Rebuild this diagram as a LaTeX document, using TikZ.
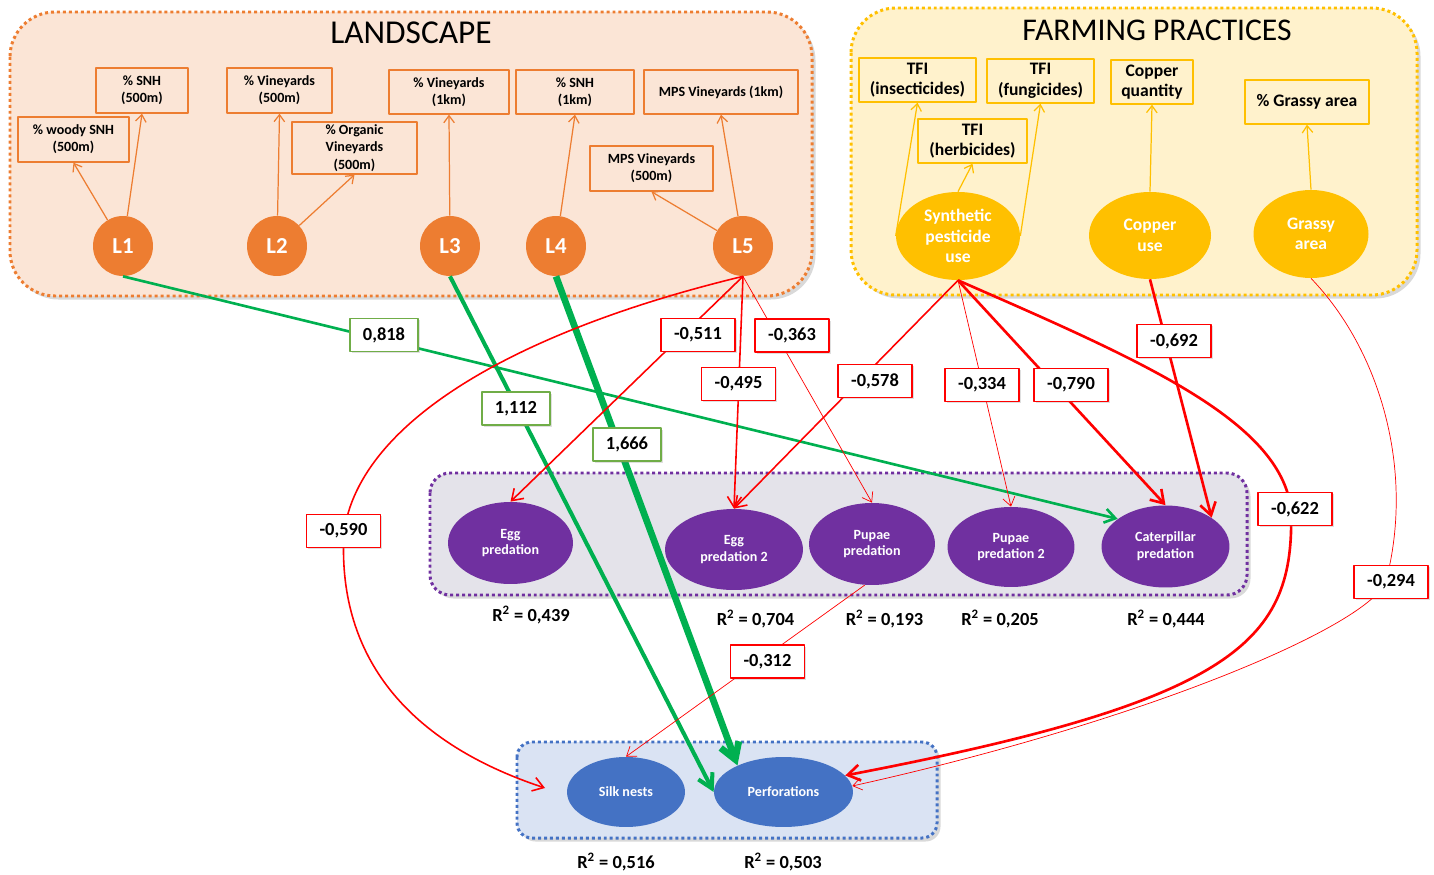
\documentclass[tikz,border=0pt]{standalone}
\usepackage{fontspec}
\setmainfont{Carlito}
\usetikzlibrary{shapes.geometric}
\usetikzlibrary{arrows.meta}
\usetikzlibrary{shadows}

\definecolor{landorange}{HTML}{ED7D31}
\definecolor{landfill}{HTML}{FBE5D6}
\definecolor{farmgold}{HTML}{FFC000}
\definecolor{farmfill}{HTML}{FFF2CC}
\definecolor{predpurple}{HTML}{7030A0}
\definecolor{predfill}{HTML}{E4E3EA}
\definecolor{damblue}{HTML}{4472C4}
\definecolor{damfill}{HTML}{DAE3F3}
\definecolor{effred}{HTML}{FF0000}
\definecolor{effgreen}{HTML}{00B050}
\definecolor{labgreen}{HTML}{70AD47}

\newcommand{\rsquare}[1]{R\textsuperscript{2} = #1} % R squared under a block

\tikzset{
	area/.style={line width=1.7pt, line cap=butt, dash pattern=on 1.7pt off 1.7pt,
		drop shadow={shadow xshift=2pt, shadow yshift=-2pt, opacity=0.3}},
	lbox/.style={draw=landorange, line width=0.8pt, align=center, inner sep=0pt,
		font=\bfseries\fontsize{8}{9.8}\selectfont},
	fbox/.style={draw=farmgold, line width=0.8pt, align=center, inner sep=0pt,
		font=\bfseries\fontsize{10}{11.7}\selectfont},
	lvar/.style={circle, fill=landorange, minimum size=1.2cm, text=white,
		font=\bfseries\fontsize{13}{14}\selectfont},
	fvar/.style={ellipse, fill=farmgold, text=white, align=center, inner sep=0pt,
		font=\bfseries\fontsize{10}{11.7}\selectfont},
	pvar/.style={ellipse, fill=predpurple, text=white, align=center, inner sep=0pt,
		font=\bfseries\fontsize{8}{9.5}\selectfont},
	dvar/.style={ellipse, fill=damblue, text=white, align=center, inner sep=0pt,
		font=\bfseries\fontsize{8}{9.5}\selectfont},
	rlab/.style={font=\bfseries\fontsize{10.5}{12}\selectfont},
	coef/.style={draw, fill=white, line width=0.8pt, inner xsep=0.26cm, minimum height=0.66cm,
		font=\bfseries\fontsize{10.5}{12}\selectfont,
		drop shadow={shadow xshift=1pt, shadow yshift=-1pt, opacity=0.25}},
	nlab/.style={coef, draw=effred},
	plab/.style={coef, draw=labgreen},
	lind/.style={draw=landorange, line width=0.7pt, -{Straight Barb[length=4pt, width=6pt]}},
	find/.style={draw=farmgold, line width=0.7pt, -{Straight Barb[length=4pt, width=6pt]}},
	negA/.style={draw=effred, line width=0.4pt, -{Straight Barb[length=5pt, width=7pt]}},
	negB/.style={draw=effred, line width=0.9pt, -{Straight Barb[length=6pt, width=8pt]}},
	negC/.style={draw=effred, line width=1.5pt, -{Straight Barb[length=7pt, width=9pt]}},
	posA/.style={draw=effgreen, line width=1.5pt, -{Straight Barb[length=6pt, width=8pt]}},
	posB/.style={draw=effgreen, line width=2.3pt, -{Straight Barb[length=8pt, width=9pt]}},
	posC/.style={draw=effgreen, line width=3.8pt, -{Straight Barb[length=9pt, width=11pt]}}
}

\begin{document}
\begin{tikzpicture}[x=0.02cm, y=-0.02cm, line join=round]
	% 1434 x 875 px, 1px = 0.02cm, y downwards
	\useasboundingbox (0,0) rectangle (1434,875);

	% blocks
	\draw[area, draw=landorange, fill=landfill, rounded corners=0.9cm] (10,12) rectangle (812,296);
	\draw[area, draw=farmgold, fill=farmfill, rounded corners=0.9cm] (851,8) rectangle (1417,295);
	\draw[area, draw=predpurple, fill=predfill, rounded corners=0.4cm] (430,473) rectangle (1247,595);
	\draw[area, draw=damblue, fill=damfill, rounded corners=0.3cm] (517,742) rectangle (937,838);

	\node[font=\fontsize{19}{22}\selectfont] (landtitle) at (411,33) {LANDSCAPE};
	\node[font=\fontsize{18}{22}\selectfont] (farmtitle) at (1157,30) {FARMING PRACTICES};

	% landscape
	\node[lbox, minimum width=2.22cm, minimum height=0.9cm] (woody) at (73.5,139.5) {\% woody SNH\\(500m)};
	\node[lbox, minimum width=1.84cm, minimum height=0.9cm] (snh500) at (142,90.5) {\% SNH\\(500m)};
	\node[lbox, minimum width=2.1cm, minimum height=0.9cm] (vin500) at (279.5,90.5) {\% Vineyards\\(500m)};
	\node[lbox, minimum width=2.5cm, minimum height=1.04cm] (org500) at (354.5,148) {\% Organic\\Vineyards\\(500m)};
	\node[lbox, minimum width=2.4cm, minimum height=0.88cm] (vin1k) at (449,92) {\% Vineyards\\(1km)};
	\node[lbox, minimum width=2.36cm, minimum height=0.88cm] (snh1k) at (575,92) {\% SNH\\(1km)};
	\node[lbox, minimum width=3.08cm, minimum height=0.88cm] (mps1k) at (721,92) {MPS Vineyards (1km)};
	\node[lbox, minimum width=2.46cm, minimum height=0.9cm] (mps500) at (651.5,168.5) {MPS Vineyards\\(500m)};

	\node[lvar] (L1) at (123,246) {L1};
	\node[lvar] (L2) at (277,246) {L2};
	\node[lvar] (L3) at (450,246) {L3};
	\node[lvar] (L4) at (556,246) {L4};
	\node[lvar] (L5) at (743,246) {L5};

	\draw[lind] (L1) -- (woody.south);
	\draw[lind] (L1) -- (snh500.south);
	\draw[lind] (L2) -- (vin500.south);
	\draw[lind] (L2) -- (org500.south);
	\draw[lind] (L3) -- (vin1k.south);
	\draw[lind] (L4) -- (snh1k.south);
	\draw[lind] (L5) -- (mps500.south);
	\draw[lind] (L5) -- (mps1k.south);

	% farming practices
	\node[fbox, minimum width=2.34cm, minimum height=0.88cm] (tfiins) at (917.5,80) {TFI\\(insecticides)};
	\node[fbox, minimum width=2.14cm, minimum height=0.88cm] (tfifun) at (1040.5,81) {TFI\\(fungicides)};
	\node[fbox, minimum width=2.18cm, minimum height=0.88cm] (tfiherb) at (972.5,141) {TFI\\(herbicides)};
	\node[fbox, minimum width=1.64cm, minimum height=0.88cm] (copq) at (1152,82) {Copper\\quantity};
	\node[fbox, minimum width=2.48cm, minimum height=0.88cm] (grass) at (1307,102) {\% Grassy area};

	\node[fvar, minimum width=2.48cm, minimum height=1.76cm] (synth) at (958,236) {Synthetic\\pesticide\\use};
	\node[fvar, minimum width=2.44cm, minimum height=1.74cm] (copper) at (1150,235.5) {Copper\\use};
	\node[fvar, minimum width=2.3cm, minimum height=1.76cm] (grassy) at (1311,234) {Grassy\\area};

	\draw[find] (synth.west) -- (tfiins.south);
	\draw[find] (synth.north) -- (tfiherb.south);
	\draw[find] (synth.east) -- (tfifun.south);
	\draw[find] (copper.north) -- (copq.south);
	\draw[find] (grassy.north) -- (grass.south);

	% predation
	\node[pvar, minimum width=2.5cm, minimum height=1.64cm] (egg1) at (510.5,543) {Egg\\predation};
	\node[pvar, minimum width=2.76cm, minimum height=1.62cm] (egg2) at (734,549.5) {Egg\\predation 2};
	\node[pvar, minimum width=2.52cm, minimum height=1.64cm] (pupae1) at (872,544) {Pupae\\predation};
	\node[pvar, minimum width=2.54cm, minimum height=1.6cm] (pupae2) at (1011,547) {Pupae\\predation 2};
	\node[pvar, minimum width=2.56cm, minimum height=1.64cm] (cat) at (1165.5,546.5) {Caterpillar\\predation};

	\node[rlab] (r439) at (531,615) {\rsquare{0,439}};
	\node[rlab] (r704) at (755.5,619) {\rsquare{0,704}};
	\node[rlab] (r193) at (884.5,619) {\rsquare{0,193}};
	\node[rlab] (r205) at (1000,619) {\rsquare{0,205}};
	\node[rlab] (r444) at (1166,619) {\rsquare{0,444}};

	% damage
	\node[dvar, minimum width=2.36cm, minimum height=1.4cm] (silk) at (626,792) {Silk nests};
	\node[dvar, minimum width=2.78cm, minimum height=1.4cm] (perf) at (783.5,792) {Perforations};
	\coordinate (silkin) at (545,788);

	\node[rlab] (r516) at (616,862) {\rsquare{0,516}};
	\node[rlab] (r503) at (783,862) {\rsquare{0,503}};

	% effects
	\draw[posA] (L1.south) -- (cat.150);
	\draw[posB] (L3.south) -- (perf.west);
	\draw[posC] (L4.south) -- (perf.150);
	\draw[negB] (L5.south) -- (egg1.north);
	\draw[negB] (L5.south) -- (egg2.north);
	\draw[negA] (L5.south) -- (pupae1.north);
	\draw[negB] (L5.south) .. controls (520,330) and (360,420) .. (344,532)
		.. controls (337,650) and (400,740) .. (silkin);
	\draw[negB] (synth.south) -- (egg2.north);
	\draw[negA] (synth.south) -- (pupae2.north);
	\draw[negC] (synth.south) -- (cat.north);
	\draw[negC] (synth.south) .. controls (1140,360) and (1280,420) .. (1291,509)
		.. controls (1295,640) and (1240,700) .. (perf.15);
	\draw[negC] (copper.south) -- (cat.32);
	\draw[negA] (grassy.south) .. controls (1380,350) and (1415,470) .. (1386,581)
		.. controls (1370,625) and (1150,720) .. (perf.5);
	\draw[negA] (pupae1.260) -- (silk.north);

	% coefficients
	\node[plab] (c818) at (384,335) {0,818};
	\node[plab] (c1112) at (516,408.5) {1,112};
	\node[plab] (c1666) at (627,444.5) {1,666};
	\node[nlab] (c511) at (698,335) {-0,511};
	\node[nlab] (c363) at (792,335.5) {-0,363};
	\node[nlab] (c495) at (738.5,384) {-0,495};
	\node[nlab] (c590) at (343.5,531) {-0,590};
	\node[nlab] (c578) at (875,381) {-0,578};
	\node[nlab] (c334) at (982,385) {-0,334};
	\node[nlab] (c790) at (1071,385) {-0,790};
	\node[nlab] (c692) at (1174,341) {-0,692};
	\node[nlab] (c622) at (1295,509) {-0,622};
	\node[nlab] (c294) at (1391,582) {-0,294};
	\node[nlab] (c312) at (767.5,661.5) {-0,312};
\end{tikzpicture}
\end{document}
